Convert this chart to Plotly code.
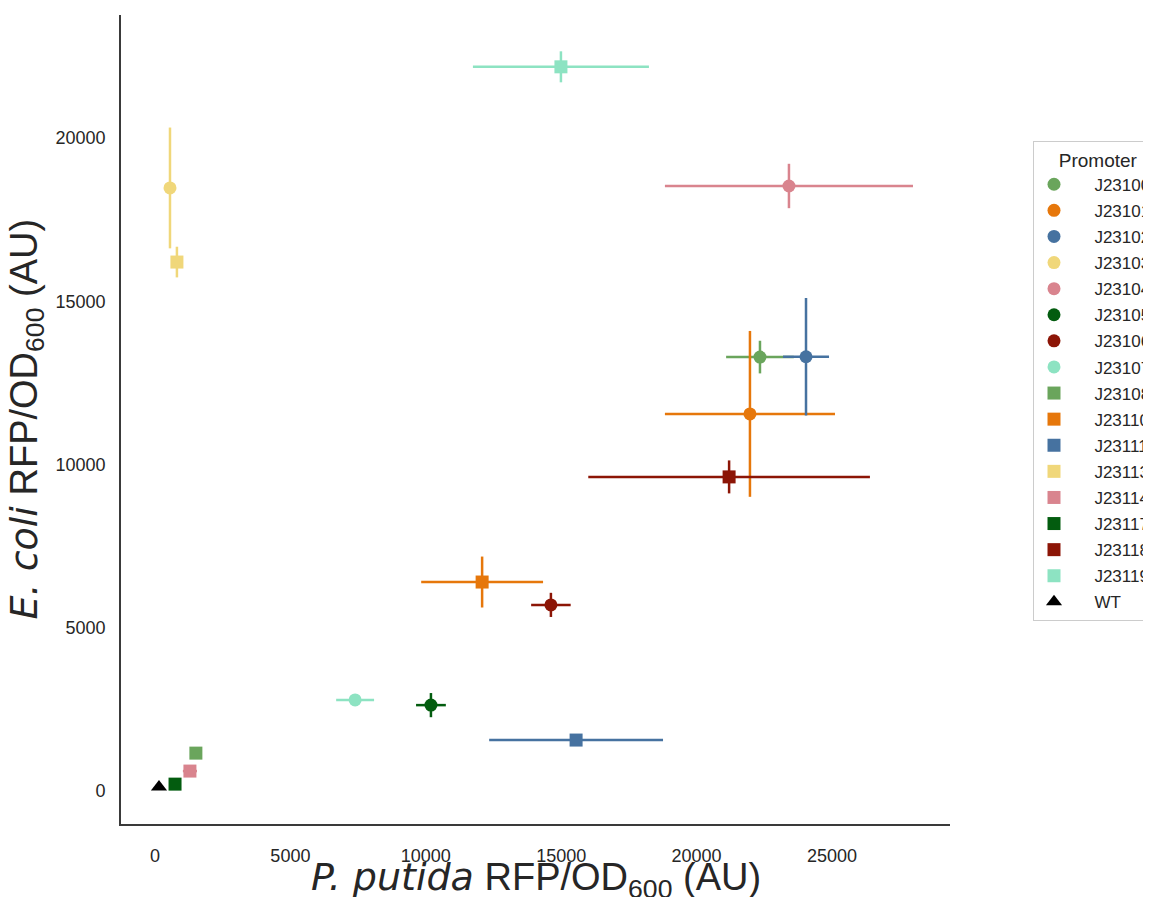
import plotly.graph_objects as go

# ---- data ----
promoters = ["J23100", "J23101", "J23102", "J23103", "J23104", "J23105", "J23106", "J23107",
             "J23108", "J23110", "J23111", "J23113", "J23114", "J23117", "J23118", "J23119", "WT"]
putida_rfp = [22340, 21970, 24040, 554, 23410, 10190, 14620, 7390,
              1510, 12080, 15550, 810, 1290, 740, 21200, 14990, 148]
coli_rfp = [13290, 11550, 13300, 18470, 18530, 2630, 5700, 2790,
            1160, 6400, 1560, 16200, 610, 210, 9620, 22180, 122]
putida_err = [1250, 3140, 850, 150, 4580, 550, 730, 700,
              100, 2250, 3210, 100, 260, 100, 5200, 3250, 0]
coli_err = [500, 2540, 1800, 1850, 680, 370, 370, 100,
            100, 780, 100, 470, 100, 80, 505, 475, 0]
shape_group = ["circle"] * 8 + ["square"] * 8 + ["WT"]

x_ticks = [0, 5000, 10000, 15000, 20000, 25000]
y_ticks = [0, 5000, 10000, 15000, 20000]

# ---- style ----
palette = ["#6aa55c", "#e6770b", "#4672a0", "#f0d77a", "#d9848e", "#035c0f", "#8c1506", "#8de3c2"]
symbol_for = {"circle": "circle", "square": "square", "WT": "triangle-up"}
LEG_PAD = "\u2003\u2009"

fig = go.Figure()
sq_i = 0
for i, name in enumerate(promoters):
    grp = shape_group[i]
    if grp == "circle":
        color = palette[i]
    elif grp == "square":
        color = palette[sq_i]
        sq_i += 1
    else:
        color = "#000000"
    fig.add_trace(go.Scatter(
        x=[putida_rfp[i]], y=[coli_rfp[i]], mode="markers", name=LEG_PAD + name,
        legendgroup=name,
        marker=dict(symbol=symbol_for[grp], size=13 if grp != "WT" else 14, color=color,
                    line=dict(width=0)),
        error_x=dict(type="data", array=[putida_err[i]], color=color, thickness=2.5, width=0,
                     visible=putida_err[i] > 0),
        error_y=dict(type="data", array=[coli_err[i]], color=color, thickness=2.5, width=0,
                     visible=coli_err[i] > 0),
    ))

# page body has an 8px margin: figure occupies window pixels 8..1151 / 8..897
OFF = 8
FW, FH = 1151 - OFF, 897 - OFF
L, T = 121 - OFF, 15 - OFF
R = FW - (950 - OFF)
B = FH - (824 - OFF)
plot_w = FW - L - R
plot_h = FH - T - B

def px_to_py(y_win):
    return (FH - B - (y_win - OFF)) / plot_h

def px_to_px(x_win):
    return ((x_win - OFF) - L) / plot_w

axis_font = dict(family="Liberation Sans, Arial, sans-serif", size=18, color="#262626")
leg_font = dict(family="Liberation Sans, Arial, sans-serif", size=17, color="#262626")
leg_title_font = dict(family="Liberation Sans, Arial, sans-serif", size=19, color="#262626")

fig.update_layout(
    width=FW, height=FH,
    margin=dict(l=L, r=R, t=T, b=B, autoexpand=False),
    paper_bgcolor="white", plot_bgcolor="white",
    showlegend=True,
    legend=dict(
        title=dict(text="\u2003\u2009Promoter", font=leg_title_font),
        font=leg_font,
        x=px_to_px(1033), y=px_to_py(141), xanchor="left", yanchor="top",
        bordercolor="#cccccc", borderwidth=1, bgcolor="white",
        tracegroupgap=1, itemwidth=30,
    ),
    xaxis=dict(range=[-1255, 29357], tickvals=x_ticks, ticktext=[str(v) for v in x_ticks],
               showgrid=False, zeroline=False, showline=True, linecolor="#3a3a3a", linewidth=1.6,
               ticks="outside", ticklen=15, tickcolor="rgba(0,0,0,0)", tickfont=axis_font,
               mirror=False),
    yaxis=dict(range=[-1011, 23767], tickvals=y_ticks, ticktext=[str(v) for v in y_ticks],
               showgrid=False, zeroline=False, showline=True, linecolor="#3a3a3a", linewidth=1.6,
               ticks="outside", ticklen=10, tickcolor="rgba(0,0,0,0)", tickfont=axis_font,
               mirror=False),
    annotations=[
        dict(text='<span style="font-family:DejaVu Sans"><i>P. putida</i></span> RFP/OD<sub>600</sub> (AU)',
             xref="paper", yref="paper", x=0.5, y=px_to_py(879),
             xanchor="center", yanchor="middle", showarrow=False,
             font=dict(family="Liberation Sans, Arial, sans-serif", size=38, color="#262626")),
        dict(text='<span style="font-family:DejaVu Sans"><i>E. coli</i></span> RFP/OD<sub>600</sub> (AU)',
             xref="paper", yref="paper", x=px_to_px(26), y=0.5, textangle=-90,
             xanchor="center", yanchor="middle", showarrow=False,
             font=dict(family="Liberation Sans, Arial, sans-serif", size=38, color="#262626")),
    ],
)

fig.write_html("out.html")
